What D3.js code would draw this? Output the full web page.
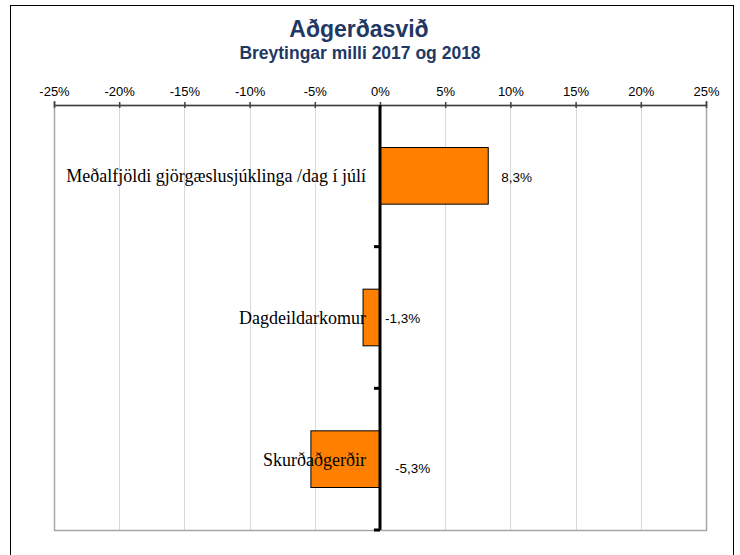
<!DOCTYPE html>
<html>
<head>
<meta charset="utf-8">
<script src="https://cdn.jsdelivr.net/npm/d3@7"></script>
<style>
  body { margin: 0; background: #fff; }
</style>
</head>
<body>
<div id="chart"></div>
<script>
// data
const categories = ["Meðalfjöldi gjörgæslusjúklinga /dag í júlí", "Dagdeildarkomur", "Skurðaðgerðir"];
const changes = [0.083, -0.013, -0.053];
const valueLabels = ["8,3%", "-1,3%", "-5,3%"];
const tickValues = [-0.25, -0.2, -0.15, -0.1, -0.05, 0, 0.05, 0.1, 0.15, 0.2, 0.25];
const tickLabels = ["-25%", "-20%", "-15%", "-10%", "-5%", "0%", "5%", "10%", "15%", "20%", "25%"];

const W = 740, H = 555;
let margin = { top: 105, right: 34, bottom: 25, left: 54 };
let width = W - margin.left - margin.right;
let height = H - margin.top - margin.bottom;

let svg = d3.select("#chart")
    .append("svg")
    .attr("width", W)
    .attr("height", H);

// outer frame
svg.append("rect")
    .attr("x", 10.5).attr("y", 5.5)
    .attr("width", 723).attr("height", 560)
    .attr("fill", "none")
    .attr("stroke", "#000");

// titles
svg.append("text")
    .attr("x", 359).attr("y", 37)
    .attr("text-anchor", "middle")
    .style("font-family", "Liberation Sans, Arial, sans-serif")
    .style("font-weight", "bold")
    .style("font-size", "23px")
    .style("fill", "#1f3864")
    .text("Aðgerðasvið");
svg.append("text")
    .attr("x", 360).attr("y", 59)
    .attr("text-anchor", "middle")
    .style("font-family", "Liberation Sans, Arial, sans-serif")
    .style("font-weight", "bold")
    .style("font-size", "17.5px")
    .style("fill", "#1f3864")
    .text("Breytingar milli 2017 og 2018");

let g = svg.append("g")
    .attr("transform", "translate(" + margin.left + "," + margin.top + ")");

const x = d3.scaleLinear()
    .domain([-0.25, 0.25])
    .range([0, width]);

const y = d3.scaleBand()
    .domain(categories)
    .range([0, height])
    .paddingInner(0.6)
    .paddingOuter(0.3);

// gridlines
g.selectAll(".grid")
    .data(tickValues.slice(1, -1))
    .join("line")
    .attr("x1", d => Math.round(x(d)) + 0.5)
    .attr("x2", d => Math.round(x(d)) + 0.5)
    .attr("y1", 0)
    .attr("y2", height)
    .attr("stroke", "#d9d9d9");

// plot border
g.append("rect")
    .attr("x", 0.5).attr("y", 0.5)
    .attr("width", width).attr("height", height)
    .attr("fill", "none")
    .attr("stroke", "#a6a6a6")
    .attr("stroke-width", 1.5);

// top axis
const xAxis = g.append("g")
    .call(d3.axisTop(x)
        .tickValues(tickValues)
        .tickSize(4)
        .tickFormat((d, i) => tickLabels[i]));
xAxis.select(".domain").attr("stroke", "#404040").attr("stroke-width", 1.5);
xAxis.selectAll(".tick line").attr("stroke", "#404040").attr("stroke-width", 1.5).attr("y1", -3).attr("y2", 3);
xAxis.selectAll(".tick text")
    .attr("y", -9.5)
    .style("font-family", "Liberation Sans, Arial, sans-serif")
    .style("font-size", "13px")
    .style("fill", "#000");

// bars
g.selectAll(".bar")
    .data(changes)
    .join("rect")
    .attr("x", d => x(Math.min(0, d)))
    .attr("y", (d, i) => y(categories[i]))
    .attr("width", d => Math.abs(x(d) - x(0)))
    .attr("height", y.bandwidth())
    .attr("fill", "#ff8000")
    .attr("stroke", "#000")
    .attr("stroke-width", 1);

// zero axis with category ticks
const step = y.step();
g.append("line")
    .attr("x1", x(0)).attr("x2", x(0))
    .attr("y1", 0).attr("y2", height)
    .attr("stroke", "#000")
    .attr("stroke-width", 3);
g.selectAll(".ctick")
    .data(d3.range(1, categories.length + 1))
    .join("line")
    .attr("x1", x(0) - 6).attr("x2", x(0))
    .attr("y1", i => y.paddingOuter() * step - step * y.paddingInner() / 2 + i * step)
    .attr("y2", i => y.paddingOuter() * step - step * y.paddingInner() / 2 + i * step)
    .attr("stroke", "#000")
    .attr("stroke-width", 3);

// category labels
g.selectAll(".cat")
    .data(categories)
    .join("text")
    .attr("x", x(0) - 14)
    .attr("y", d => y(d) + y.bandwidth() / 2 + 6.5)
    .attr("text-anchor", "end")
    .style("font-family", "Liberation Serif, Times New Roman, serif")
    .style("font-size", "18px")
    .style("fill", "#000")
    .text(d => d);

// value labels (Excel places them a little unevenly)
const nudge = [13, 5, 15];
const nudgeY = [6.5, 5.5, 14];
g.selectAll(".val")
    .data(changes)
    .join("text")
    .attr("x", (d, i) => Math.max(x(d), x(0)) + nudge[i])
    .attr("y", (d, i) => y(categories[i]) + y.bandwidth() / 2 + nudgeY[i])
    .style("font-family", "Liberation Sans, Arial, sans-serif")
    .style("font-size", "13.5px")
    .style("fill", "#000")
    .text((d, i) => valueLabels[i]);
</script>
</body>
</html>
